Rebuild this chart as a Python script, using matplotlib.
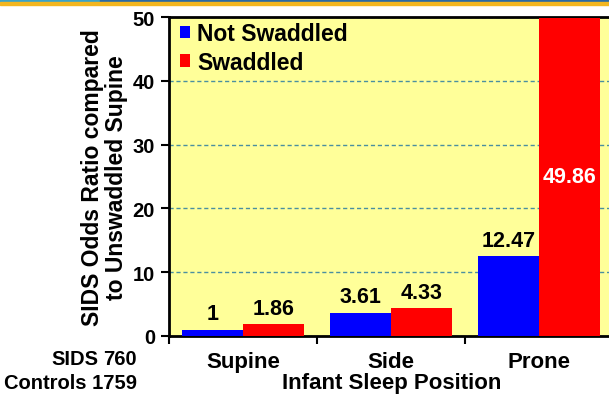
import matplotlib
matplotlib.use("Agg")
import matplotlib.pyplot as plt
from matplotlib.patches import Patch, Rectangle

plt.rcParams['font.family'] = ['Liberation Sans', 'DejaVu Sans']
plt.rcParams['font.weight'] = 'bold'

# Data
positions = ["Supine", "Side", "Prone"]
not_swaddled = [1, 3.61, 12.47]
swaddled = [1.86, 4.33, 49.86]
series_names = ["Not Swaddled", "Swaddled"]
count_labels = ["SIDS", "Controls"]
count_values = ["760", "1759"]
y_ticks = [0, 10, 20, 30, 40, 50]

BLUE = "#0000FF"
RED = "#FF0000"
BG = "#FFFF99"

W, H = 609, 402
fig = plt.figure(figsize=(W / 100, H / 100), dpi=100)
fig.patch.set_facecolor("white")

# decorative banner at the top edge
fig.patches.append(Rectangle((0, 1 - 3 / H), 100 / W, 3 / H, transform=fig.transFigure,
                             color="#3aa3c9", zorder=0))
fig.patches.append(Rectangle((100 / W, 1 - 3 / H), 1, 3 / H, transform=fig.transFigure,
                             color="#2a6aa5", zorder=0))
fig.patches.append(Rectangle((0, 1 - 6 / H), 1, 3 / H, transform=fig.transFigure,
                             color="#f3b61f", zorder=0))

# axes in pixel terms: left 169, right 613, top 18, bottom 337
left, right, top, bottom = 169, 613, 18, 337
ax = fig.add_axes([left / W, (H - bottom) / H, (right - left) / W, (bottom - top) / H])
ax.set_facecolor(BG)

n = len(positions)
centers = [i + 0.5 for i in range(n)]
bw = 61 / 148

bars1 = ax.bar([c - bw / 2 for c in centers], not_swaddled, width=bw, color=BLUE,
               zorder=3, label=series_names[0])
bars2 = ax.bar([c + bw / 2 for c in centers], swaddled, width=bw, color=RED,
               zorder=3, label=series_names[1])

ax.set_xlim(0, n)
ax.set_ylim(0, 50)

# dashed gridlines behind the bars
ax.set_yticks(y_ticks)
ax.yaxis.grid(True, linestyle=(0, (3, 2)), color="#4a8fa0", linewidth=1.0, zorder=1)
ax.set_axisbelow(True)

ax.tick_params(axis='y', direction='out', length=6, width=1.5, labelsize=14.5, pad=4)
ax.set_yticklabels([str(t) for t in y_ticks], fontweight='bold')

ax.set_xticks(list(range(n + 1)))
ax.set_xticklabels([])
ax.tick_params(axis='x', which='major', direction='out', length=6, width=1.5)
ax.set_xticks(centers, minor=True)
ax.set_xticklabels(positions, minor=True, fontsize=16, fontweight='bold')
ax.tick_params(axis='x', which='minor', length=0, pad=11)

for side in ['left', 'bottom', 'top']:
    ax.spines[side].set_linewidth(2)
    ax.spines[side].set_color("black")
ax.spines['right'].set_visible(False)

# value labels
for rect, v in zip(bars1, not_swaddled):
    ax.annotate(f"{v:g}", (rect.get_x() + rect.get_width() / 2, v), xytext=(0, 4),
                textcoords="offset points", ha="center", va="bottom",
                fontsize=15.5, fontweight="bold", color="black", zorder=5)
for rect, v in zip(bars2, swaddled):
    if v > 45:
        ax.text(rect.get_x() + rect.get_width() / 2, v / 2, f"{v:g}", ha="center",
                va="center", fontsize=15.5, fontweight="bold", color="white", zorder=5)
    else:
        ax.annotate(f"{v:g}", (rect.get_x() + rect.get_width() / 2, v), xytext=(0, 4),
                    textcoords="offset points", ha="center", va="bottom",
                    fontsize=15.5, fontweight="bold", color="black", zorder=5)

# legend
handles = [Patch(facecolor=BLUE, edgecolor='none'), Patch(facecolor=RED, edgecolor='none')]
leg = ax.legend(handles, series_names, loc="upper left",
                bbox_to_anchor=(180 / W, 1 - 23 / H), bbox_transform=fig.transFigure,
                frameon=False, fontsize=16.5, handlelength=0.45, handleheight=0.45,
                handletextpad=0.3, labelspacing=0.25, borderpad=0, borderaxespad=0)
for t in leg.get_texts():
    t.set_fontweight('bold')

# axis titles
fig.text(93 / W, 1 - 178 / H, "SIDS Odds Ratio compared", rotation=90, ha="center",
         va="center", fontsize=16.5, fontweight="bold")
fig.text(116 / W, 1 - 178 / H, "to Unswaddled Supine", rotation=90, ha="center",
         va="center", fontsize=16.5, fontweight="bold")
fig.text(392 / W, 1 - 384 / H, "Infant Sleep Position", ha="center", va="center",
         fontsize=16, fontweight="bold")

# sample counts
fig.text(98 / W, 1 - 360 / H, count_labels[0], ha="right", va="center",
         fontsize=14.5, fontweight="bold")
fig.text(137 / W, 1 - 360 / H, count_values[0], ha="right", va="center",
         fontsize=14.5, fontweight="bold")
fig.text(137 / W, 1 - 384 / H, f"{count_labels[1]} {count_values[1]}", ha="right",
         va="center", fontsize=14.5, fontweight="bold")

fig.savefig("out.png", dpi=100)
